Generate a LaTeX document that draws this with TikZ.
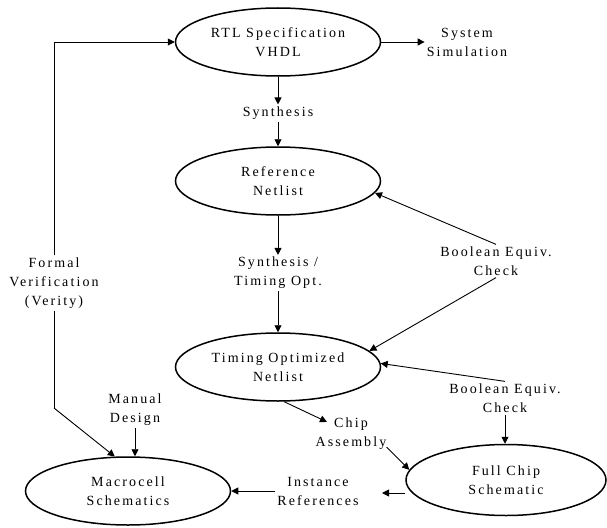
\documentclass[tikz,border=0pt]{standalone}
\usepackage{fontspec}
\setmainfont{Liberation Serif}[LetterSpace=15]
\usetikzlibrary{shapes.geometric,arrows.meta,calc}
\begin{document}
\begin{tikzpicture}[x=1pt,y=-1pt,
  every node/.style={font=\fontsize{14}{19}\selectfont, align=center, inner sep=2pt},
  stage/.style={ellipse, draw, line width=1.5pt, minimum width=205pt,
                minimum height=68pt, inner sep=0pt},
  note/.style={},
  flow/.style={line width=0.9pt, -{Triangle[length=7pt,width=7pt]}},
  link/.style={line width=0.9pt}]
\useasboundingbox (0,0) rectangle (607,527);

% design stages
\node[stage] (rtl)    at (278,42)  {RTL Specification\\VHDL};
\node[stage] (ref)    at (278,181) {Reference\\Netlist};
\node[stage] (timing) at (278,367) {Timing Optimized\\Netlist};
\node[stage] (macro)  at (128,491) {Macrocell\\Schematics};
\node[stage, minimum width=200pt, minimum height=71pt] (full) at (506,480) {Full Chip\\Schematic};

% step labels
\node[note] (syssim)  at (467,42)  {System\\Simulation};
\node[note] (synth)   at (278,113) {Synthesis};
\node[note] (synthto) at (278,273) {Synthesis /\\Timing Opt.};
\node[note] (boolA)   at (496,261) {Boolean Equiv.\\Check};
\node[note] (boolB)   at (505,398) {Boolean Equiv.\\Check};
\node[note] (formal)  at (54,283)  {Formal\\Verification\\(Verity)};
\node[note] (manual)  at (135,410) {Manual\\Design};
\node[note] (chipasm) at (351,434) {Chip\\Assembly};
\node[note] (inst)    at (318,491) {Instance\\References};

% free ends and bends
\coordinate (fbend) at (54,408);
\coordinate (instR) at (382,493);

% main flow
\draw[flow] (rtl.east) -- (syssim.west);
\draw[flow] (rtl.south) -- (synth.north);
\draw[flow] (synth.south) -- (ref.north);
\draw[flow] (ref.south) -- (synthto.north);
\draw[flow] (synthto.south) -- (timing.north);

% equivalence checks
\draw[flow] (boolA.north) -- (ref.-7);
\draw[flow] (boolA.south) -- (timing.10);
\draw[flow] (boolB.north) -- (timing.2);
\draw[flow] (boolB.south) -- (boolB.south |- full.north);

% formal verification loop
\draw[flow] (formal.north) |- (rtl.west);
\draw[link] (formal.south) -- (fbend);
\draw[flow] (fbend) -- (macro.111);

% assembly and back-annotation
\draw[flow] (manual.south) -- (manual.south |- macro.north);
\draw[flow] (timing.-80) -- ($(chipasm.north west)+(13.5,6)$);
\draw[flow] ($(chipasm.south east)+(-2,-5)$) -- (full.174);
\draw[flow] ($(full.west)+(0,13)$) -- (instR);
\draw[flow] (inst.west) -- (macro.east);
\end{tikzpicture}
\end{document}
